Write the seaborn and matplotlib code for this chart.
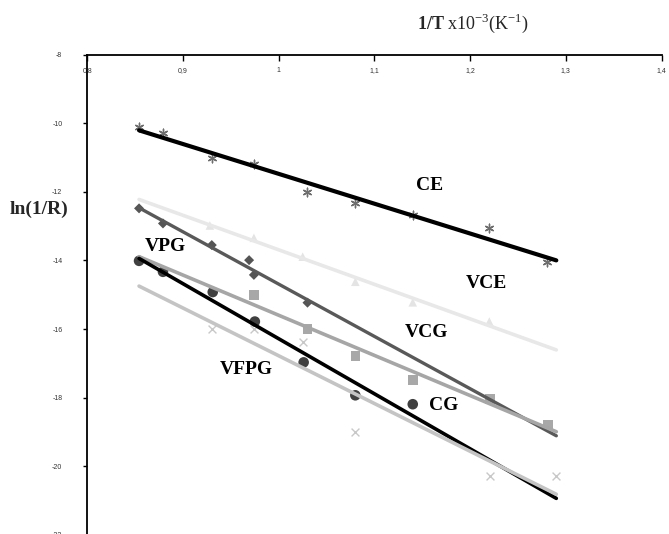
import numpy as np
import pandas as pd
import matplotlib
matplotlib.use("Agg")
import matplotlib.pyplot as plt
import seaborn as sns

sns.set_theme(style="white")
plt.rcParams['font.family'] = ['Liberation Serif', 'DejaVu Serif']
plt.rcParams['mathtext.fontset'] = 'custom'
plt.rcParams['mathtext.rm'] = 'Liberation Serif'
plt.rcParams['mathtext.bf'] = 'Liberation Serif:bold'
plt.rcParams['axes.unicode_minus'] = False

# ---- data ----
series_names = ["CE", "VCE", "VCG", "VPG", "CG", "VFPG"]

ce_x = [0.854, 0.879, 0.930, 0.974, 1.030, 1.080, 1.140, 1.220, 1.280]
ce_y = [-10.10, -10.27, -11.02, -11.19, -12.00, -12.31, -12.67, -13.05, -14.03]

vce_x = [0.928, 0.974, 1.025, 1.080, 1.140, 1.220]
vce_y = [-12.98, -13.34, -13.89, -14.62, -15.22, -15.78]

vcg_x = [0.854, 0.879, 0.930, 0.969, 0.974, 1.030]
vcg_y = [-12.48, -12.92, -13.55, -13.99, -14.42, -15.23]

vpg_x = [0.974, 1.030, 1.080, 1.140, 1.221, 1.281]
vpg_y = [-15.00, -16.00, -16.79, -17.48, -18.03, -18.78]

cg_x = [0.854, 0.879, 0.931, 0.975, 1.026, 1.080, 1.140]
cg_y = [-14.01, -14.33, -14.92, -15.78, -16.97, -17.93, -18.19]

vfpg_x = [0.930, 0.974, 1.025, 1.080, 1.221, 1.290]
vfpg_y = [-16.00, -16.00, -16.38, -18.99, -20.27, -20.27]

x_ticks = [0.8, 0.9, 1.0, 1.1, 1.2, 1.3, 1.4]
x_tick_labels = ["0,8", "0,9", "1", "1,1", "1,2", "1,3", "1,4"]
y_ticks = [-8, -10, -12, -14, -16, -18, -20, -22]
y_tick_labels = ["-8", "-10", "-12", "-14", "-16", "-18", "-20", "-22"]

xs = [ce_x, vce_x, vcg_x, vpg_x, cg_x, vfpg_x]
ys = [ce_y, vce_y, vcg_y, vpg_y, cg_y, vfpg_y]

# ---- styles ----
marker_styles = {
    "CE":   dict(marker=(6, 2, 0), s=38, color="#6e6e6e", lw=1.0),
    "VCE":  dict(marker="^", s=38, color="#e4e4e4", lw=0.0),
    "VCG":  dict(marker="D", s=26, color="#555555", lw=0.0),
    "VPG":  dict(marker="s", s=48, color="#a8a8a8", lw=0.0),
    "CG":   dict(marker="o", s=58, color="#404040", lw=0.0),
    "VFPG": dict(marker="x", s=32, color="#c8c8c8", lw=1.0),
}
line_styles = {
    "CE": ("#000000", 3.0),
    "VCE": ("#e8e8e8", 2.6),
    "VCG": ("#595959", 2.4),
    "VPG": ("#a6a6a6", 2.6),
    "CG": ("#000000", 2.6),
    "VFPG": ("#c4c4c4", 2.6),
}
label_pos = {
    "CE": (1.158, -11.80),
    "VCE": (1.2165, -14.66),
    "VCG": (1.154, -16.11),
    "CG": (1.172, -18.24),
    "VPG": (0.881, -13.58),
    "VFPG": (0.966, -17.19),
}

fig = plt.figure(figsize=(6.69, 5.34), dpi=100)
ax = fig.add_axes([0.1306, -0.0017, 0.8583, 0.8993])

x_all = np.concatenate([np.asarray(v, float) for v in xs])
line_x = np.array([x_all.min(), x_all.max()])

for name, x, y in zip(series_names, xs, ys):
    st = marker_styles[name]
    if st["lw"] > 0:
        sns.scatterplot(x=x, y=y, marker=st["marker"], s=st["s"], color=st["color"],
                        edgecolor=st["color"], linewidth=st["lw"], ax=ax, zorder=3)
    else:
        sns.scatterplot(x=x, y=y, marker=st["marker"], s=st["s"], color=st["color"],
                        edgecolor="none", linewidth=0, ax=ax, zorder=3)

for i, (name, x, y) in enumerate(zip(series_names, xs, ys)):
    k, b = np.polyfit(x, y, 1)
    col, lw = line_styles[name]
    sns.lineplot(x=line_x, y=k * line_x + b, color=col, linewidth=lw, ax=ax,
                 zorder=4 + i * 0.1)

for name in series_names:
    px, py = label_pos[name]
    ax.text(px, py, name, fontsize=14, fontweight="bold", ha="center", va="center",
            color="black", zorder=6)

ax.set_xlim(0.8, 1.4)
ax.set_ylim(-22, -8)
ax.set_xticks(x_ticks)
ax.set_xticklabels(x_tick_labels, family="Liberation Sans")
ax.set_yticks(y_ticks)
ax.set_yticklabels(y_tick_labels, family="Liberation Sans")

for sp in ["bottom", "right"]:
    ax.spines[sp].set_visible(False)
for sp in ["top", "left"]:
    ax.spines[sp].set_visible(True)
    ax.spines[sp].set_color("black")
    ax.spines[sp].set_linewidth(1.3)

ax.xaxis.set_ticks_position("top")
ax.tick_params(axis="x", which="both", direction="in", length=4, width=1, color="black",
               pad=-14, labelsize=5, labeltop=True, labelbottom=False, top=True, bottom=False,
               labelcolor="#333333")
ax.tick_params(axis="y", which="both", direction="out", length=3, width=1, color="black",
               pad=15, labelsize=5, left=True, right=False, labelcolor="#333333")

ax.set_xlabel(r"$\mathbf{1/T}$ x10$^{-3}$(K$^{-1}$)", fontsize=13)
ax.xaxis.set_label_position("top")
ax.xaxis.set_label_coords(0.6715, 1.066)
ax.xaxis.label.set_va("center")

ax.set_ylabel("ln(1/R)", fontsize=14, fontweight="bold", rotation=0)
ax.yaxis.set_label_coords(-0.0843, 0.677)
ax.yaxis.label.set_va("center")
ax.yaxis.label.set_ha("center")

ax.grid(False)
fig.savefig("out.png", dpi=100)
